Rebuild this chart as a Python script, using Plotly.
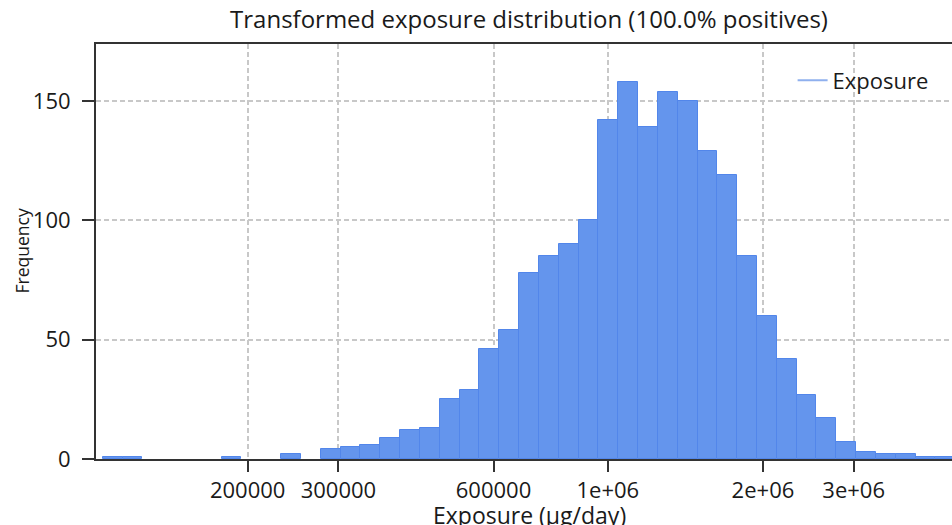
import numpy as np
import plotly.graph_objects as go

# ---- data ----
# histogram bins are equal width in log10(exposure)
bin_start_log10 = 5.0196      # log10 of lowest bin edge (µg/day)
bin_width_log10 = 0.03848     # bin width in decades
counts = [1, 1, 0, 0, 0, 0, 1, 0, 0, 2, 0, 4, 5, 6, 9, 12, 13, 25, 29, 46,
          54, 78, 85, 90, 100, 142, 158, 139, 154, 150, 129, 119, 85, 60, 42,
          27, 17, 7, 3, 2, 2, 1, 1]
tick_values = [200000, 300000, 600000, 1000000, 2000000, 3000000]
tick_labels = ["200000", "300000", "600000", "1e+06", "2e+06", "3e+06"]
y_ticks = [0, 50, 100, 150]
x_range_values = [101540, 4655000]
y_max = 174

centers = bin_start_log10 + bin_width_log10 * (np.arange(len(counts)) + 0.5)
bar_heights = [c if c > 0 else None for c in counts]

FONT = "Open Sans"
fig = go.Figure()
fig.add_trace(go.Bar(
    x=centers, y=bar_heights, width=bin_width_log10,
    marker=dict(color="#6495ed", line=dict(color="#5286ea", width=1)),
    showlegend=False, name="Exposure"))
fig.add_trace(go.Scatter(
    x=[None], y=[None], mode="lines", name="Exposure",
    line=dict(color="#8fb0ee", width=2)))

fig.update_layout(
    width=952, height=525,
    margin=dict(l=96, r=0, t=44, b=66),
    paper_bgcolor="white", plot_bgcolor="white",
    font=dict(family=FONT, size=20, color="#1a1a1a"),
    title=dict(text="Transformed exposure distribution (100.0% positives)",
               x=529 / 952, xanchor="center", xref="container",
               y=1 - 20 / 525, yanchor="middle", yref="container",
               font=dict(family=FONT, size=24, color="#1a1a1a")),
    bargap=0,
    legend=dict(x=0.8138, y=0.963, xanchor="left", yanchor="top",
                bgcolor="rgba(0,0,0,0)", font=dict(size=22)),
    annotations=[
        dict(text="Exposure (µg/day)", xref="paper", yref="paper",
             x=0.507, y=-0.1338, xanchor="center", yanchor="middle",
             showarrow=False, font=dict(size=23, color="#1a1a1a")),
        dict(text="Frequency", xref="paper", yref="paper",
             x=-0.0876, y=0.5, xanchor="center", yanchor="middle",
             textangle=-90, showarrow=False,
             font=dict(size=17.5, color="#1a1a1a")),
    ],
)
fig.update_xaxes(
    range=[np.log10(x_range_values[0]), np.log10(x_range_values[1])],
    tickmode="array", tickvals=np.log10(tick_values), ticktext=tick_labels,
    ticks="outside", ticklen=11, tickwidth=2, tickcolor="#333333",
    showline=True, linecolor="#333333", linewidth=2, mirror=True,
    showgrid=True, gridcolor="#c8c8c8", gridwidth=1.5, griddash="5px,3px",
    zeroline=False, automargin=False,
    tickfont=dict(size=22),
)
fig.update_yaxes(
    range=[0, y_max], tickmode="array", tickvals=y_ticks,
    ticks="outside", ticklen=12, tickwidth=2, tickcolor="#333333",
    ticklabelstandoff=7,
    showline=True, linecolor="#333333", linewidth=2, mirror=False,
    showgrid=True, gridcolor="#c8c8c8", gridwidth=1.5, griddash="5px,3px",
    zeroline=False, automargin=False,
    tickfont=dict(size=22),
)

fig.write_html("out.html",
               config={"displayModeBar": False},
               post_script="document.body.style.margin='0';"
                           "document.body.style.overflow='hidden';")
